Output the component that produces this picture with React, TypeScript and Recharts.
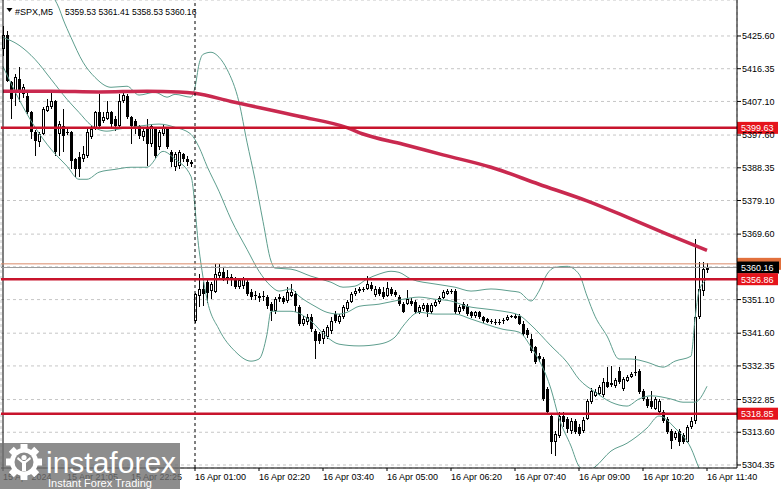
import React from 'react';
import { ComposedChart, Bar, Line, XAxis, YAxis, CartesianGrid, ReferenceLine } from 'recharts';

const FONT = '"Liberation Sans", Arial, sans-serif';

const opens = [
  5422, 5426, 5412.5, 5410.0, 5413.4, 5409.1, 5408.6, 5404.0, 5398.4, 5395.6,
  5397.8, 5404.3, 5405.5, 5407.2, 5397.8, 5400.1, 5398.6, 5398.4, 5390.8, 5391.3,
  5390.8, 5391.6, 5397.0, 5399.3, 5404.0, 5401.5, 5402.1, 5404.0, 5402.1, 5400.1,
  5407.2, 5408.6, 5402.6, 5401.5, 5400.1, 5397.0, 5399.3, 5395.0, 5399.3, 5394.2,
  5397.8, 5399.3, 5392.7, 5388.5, 5388.8, 5392.2, 5390.8, 5389.9, 5345.0, 5352.1,
  5354.1, 5356.0, 5353.5, 5353.2, 5357.7, 5358.8, 5357.5, 5356.9, 5356.9, 5354.6,
  5355.0, 5356.0, 5353.2, 5352.4, 5352.1, 5351.8, 5351.8, 5349.8, 5347.8, 5351.2,
  5351.5, 5350.7, 5352.1, 5352.6, 5349.0, 5344.2, 5344.8, 5346.1, 5342.2, 5341.5,
  5339.9, 5340.5, 5342.2, 5347.0, 5344.8, 5346.1, 5348.4, 5350.4, 5352.6, 5353.5,
  5354.1, 5354.1, 5355.2, 5352.4, 5354.1, 5353.2, 5352.1, 5354.1, 5353.2, 5351.8,
  5349.8, 5349.8, 5350.7, 5350.4, 5347.5, 5348.4, 5349.5, 5347.5, 5349.2, 5350.4,
  5351.5, 5352.6, 5353.2, 5353.5, 5347.5, 5349.8, 5349.2, 5347.5, 5346.4, 5347.5,
  5346.1, 5345.6, 5345.0, 5344.8, 5344.6, 5345.0, 5345.3, 5346.2, 5346.0, 5346.4,
  5344.2, 5342.4, 5339.9, 5337.7, 5335.2, 5334.3, 5325.8, 5318.1, 5310.8, 5312.5,
  5318.1, 5317.3, 5313.9, 5316.7, 5315.0, 5313.9, 5317.3, 5322.1, 5323.9, 5324.4,
  5324.0, 5327.8, 5327.5, 5326.6, 5330.9, 5325.8, 5328.1, 5329.2, 5330.3, 5330.9,
  5325.2, 5323.0, 5322.4, 5320.2, 5319.3, 5319.2, 5317.3, 5314.0, 5312.0, 5313.9,
  5312.9, 5310.8, 5315.0, 5316.7, 5346.1, 5353.5, 5359.53,
];
const highs = [
  5428.3, 5427, 5412.8, 5414.8, 5416.8, 5412.0, 5409.5, 5404.5, 5399.0, 5398.5,
  5405.5, 5407.7, 5409.5, 5407.5, 5401.5, 5404.9, 5399.5, 5398.8, 5391.2, 5392.7,
  5394.4, 5399.3, 5400.1, 5404.3, 5409.1, 5404.0, 5407.2, 5404.5, 5402.9, 5409.1,
  5409.7, 5409.1, 5403.0, 5402.0, 5400.5, 5399.3, 5402.1, 5400.7, 5400.0, 5399.0,
  5400.7, 5399.8, 5393.3, 5392.7, 5393.3, 5392.5, 5391.6, 5390.5, 5352.9, 5358.3,
  5356.0, 5356.5, 5356.0, 5361.1, 5361.1, 5360.2, 5359.5, 5358.3, 5357.5, 5357.0,
  5357.5, 5356.5, 5354.0, 5353.5, 5353.0, 5353.5, 5352.5, 5350.5, 5351.8, 5352.6,
  5352.0, 5354.6, 5355.5, 5353.5, 5349.5, 5346.5, 5347.0, 5347.0, 5342.7, 5342.0,
  5342.7, 5344.0, 5346.1, 5347.8, 5347.0, 5349.5, 5351.0, 5353.2, 5354.5, 5354.6,
  5354.6, 5357.7, 5356.0, 5355.0, 5354.6, 5354.6, 5356.0, 5354.6, 5353.8, 5352.4,
  5350.4, 5353.8, 5351.5, 5351.0, 5349.5, 5350.2, 5350.0, 5350.0, 5351.0, 5352.0,
  5353.8, 5354.1, 5354.1, 5354.0, 5349.5, 5350.4, 5349.8, 5348.0, 5348.0, 5348.0,
  5346.5, 5346.0, 5345.6, 5345.6, 5345.5, 5345.8, 5346.8, 5346.8, 5347.0, 5347.0,
  5345.0, 5343.0, 5341.3, 5338.0, 5336.0, 5335.0, 5326.5, 5319.0, 5314.0, 5319.2,
  5319.2, 5318.0, 5317.5, 5317.3, 5316.0, 5317.8, 5323.0, 5326.0, 5325.8, 5327.0,
  5329.0, 5332.0, 5332.3, 5329.0, 5332.0, 5329.3, 5329.8, 5330.6, 5335.1, 5331.5,
  5325.8, 5323.5, 5325.2, 5323.5, 5323.0, 5320.0, 5318.0, 5314.5, 5314.0, 5314.5,
  5313.5, 5315.6, 5317.8, 5368.2, 5361.6, 5361.6, 5361.41,
];
const lows = [
  5420, 5412.5, 5402.1, 5405.7, 5406.9, 5408.0, 5403.5, 5396.4, 5391.6, 5394.2,
  5397.5, 5404.0, 5405.0, 5391.6, 5391.6, 5392.7, 5397.5, 5387.9, 5385.7, 5385.7,
  5390.0, 5391.0, 5396.5, 5399.0, 5399.3, 5401.0, 5401.8, 5400.0, 5398.7, 5399.8,
  5406.8, 5402.1, 5395.0, 5397.8, 5396.4, 5395.9, 5388.8, 5394.2, 5391.0, 5393.5,
  5397.3, 5393.6, 5388.5, 5387.4, 5387.9, 5390.0, 5388.8, 5388.5, 5344.4, 5349.0,
  5349.2, 5350.0, 5351.2, 5352.9, 5356.9, 5356.3, 5355.5, 5354.9, 5354.0, 5354.0,
  5354.1, 5352.0, 5351.0, 5351.0, 5350.5, 5350.8, 5348.5, 5345.0, 5347.0, 5350.5,
  5349.8, 5350.2, 5351.8, 5347.5, 5343.5, 5343.5, 5344.0, 5342.0, 5334.3, 5338.5,
  5338.5, 5339.9, 5341.5, 5344.4, 5344.2, 5345.6, 5348.0, 5350.0, 5352.0, 5353.0,
  5353.2, 5353.8, 5353.5, 5351.8, 5352.0, 5351.2, 5351.8, 5352.0, 5351.8, 5349.2,
  5347.2, 5349.5, 5349.2, 5347.0, 5347.0, 5348.0, 5346.1, 5347.0, 5349.0, 5349.8,
  5351.2, 5352.3, 5352.8, 5347.0, 5347.0, 5348.0, 5346.6, 5346.0, 5346.0, 5345.7,
  5344.6, 5344.4, 5344.2, 5343.8, 5344.0, 5344.2, 5345.0, 5345.8, 5345.7, 5343.8,
  5340.8, 5340.2, 5336.0, 5333.0, 5333.5, 5322.5, 5318.5, 5307.4, 5306.8, 5312.0,
  5315.0, 5313.5, 5313.0, 5313.0, 5312.5, 5313.5, 5317.0, 5321.5, 5323.5, 5324.0,
  5323.5, 5326.0, 5326.5, 5326.0, 5327.3, 5325.3, 5327.8, 5328.8, 5329.5, 5324.5,
  5322.5, 5320.5, 5320.2, 5319.8, 5318.8, 5316.2, 5313.0, 5309.0, 5311.5, 5309.7,
  5310.2, 5310.5, 5314.5, 5316.0, 5345.5, 5352.0, 5358.53,
];
const closes = [
  5426, 5412.8, 5407.7, 5414.0, 5410.0, 5411.1, 5404.0, 5398.4, 5395.9, 5397.8,
  5404.9, 5405.7, 5407.2, 5392.7, 5400.7, 5397.3, 5398.2, 5390.2, 5387.9, 5387.9,
  5392.2, 5398.4, 5399.3, 5404.0, 5400.1, 5402.6, 5404.0, 5400.7, 5400.1, 5407.2,
  5408.8, 5402.6, 5400.1, 5399.3, 5397.3, 5398.7, 5395.0, 5400.1, 5391.6, 5398.4,
  5399.8, 5394.2, 5389.9, 5392.2, 5392.7, 5390.8, 5389.9, 5389.4, 5352.6, 5354.1,
  5352.6, 5353.0, 5355.5, 5358.3, 5359.0, 5356.9, 5356.9, 5357.5, 5354.6, 5356.6,
  5356.9, 5352.6, 5351.8, 5352.1, 5351.5, 5352.2, 5349.2, 5347.8, 5351.2, 5351.8,
  5350.4, 5353.2, 5353.2, 5349.2, 5344.2, 5345.6, 5346.1, 5342.7, 5339.4, 5339.4,
  5342.2, 5343.3, 5345.0, 5345.0, 5346.4, 5349.0, 5350.4, 5352.6, 5353.5, 5354.1,
  5353.8, 5355.5, 5354.1, 5354.1, 5352.6, 5351.8, 5354.3, 5352.6, 5352.4, 5349.8,
  5347.5, 5351.2, 5349.8, 5347.5, 5349.0, 5349.5, 5347.5, 5349.5, 5350.4, 5351.5,
  5353.2, 5353.5, 5353.5, 5347.5, 5349.0, 5348.4, 5347.0, 5346.4, 5347.5, 5346.1,
  5345.0, 5344.8, 5344.7, 5344.5, 5344.9, 5345.2, 5346.3, 5346.4, 5346.6, 5344.2,
  5341.3, 5341.0, 5336.5, 5333.4, 5334.3, 5323.0, 5319.2, 5310.8, 5313.1, 5318.1,
  5316.4, 5314.5, 5316.7, 5313.6, 5313.1, 5317.0, 5322.4, 5325.2, 5325.0, 5326.3,
  5327.8, 5326.4, 5326.9, 5328.4, 5327.8, 5328.7, 5329.2, 5330.1, 5330.6, 5325.0,
  5323.0, 5321.0, 5320.7, 5323.0, 5322.4, 5316.7, 5313.6, 5311.1, 5313.4, 5310.8,
  5310.8, 5315.0, 5316.7, 5346.1, 5354.1, 5359.7, 5360.16,
];

// Moving average (bar index, value)
const maPts: [number, number][] = [
  [0, 5410.0], [12, 5410.0], [24, 5409.8], [36, 5410.0], [44, 5409.8], [48, 5409.4],
  [57, 5407.1], [74, 5402.9], [86, 5399.7], [90, 5397.9], [100, 5395.0], [110, 5392.0],
  [122, 5388.5], [134, 5383.7], [146, 5379.0], [156, 5374.4], [166, 5369.6], [176, 5365.0],
];
// Bollinger bands (bar index, value)
const bbUpperPts: [number, number][] = [
  [0, 5450], [8, 5442], [13, 5435.8], [14, 5433.5], [15, 5430.4], [17, 5425.2], [20, 5418.2],
  [23, 5413.9], [27, 5411.1], [31, 5411.4], [34, 5408.9], [38, 5409.7], [41, 5408.3],
  [43, 5409.1], [47, 5408.3], [48, 5411.1], [49, 5417.6], [50, 5420.4], [52, 5421.0],
  [54, 5419.6], [56, 5416.2], [59, 5406.9], [61, 5395.6], [63, 5385.1], [65, 5373.2],
  [67, 5362.0], [68, 5360.0], [72, 5359.7], [77, 5357.7], [82, 5356.0], [85, 5354.6],
  [88, 5354.9], [91, 5356.9], [94, 5358.3], [97, 5359.1], [99, 5358.8], [102, 5356.9],
  [108, 5355.5], [113, 5354.6], [117, 5353.5], [122, 5354.1], [127, 5353.5], [129, 5353.2],
  [132, 5350.7], [134, 5353.5], [136, 5358.3], [138, 5360.2], [141, 5360.5], [144, 5358.3],
  [146, 5352.1], [148, 5346.4], [151, 5340.8], [154, 5334.3], [157, 5334.3], [161, 5333.4],
  [165, 5332.0], [168, 5333.7], [172, 5335.1], [173, 5345.6], [174, 5353.5], [176, 5356.9],
];
const bbMiddlePts: [number, number][] = [
  [0, 5425.2], [4, 5423.0], [8, 5419.0], [12, 5413.4], [16, 5407.7], [19, 5404.0],
  [22, 5400.4], [26, 5398.7], [29, 5399.3], [34, 5400.1], [39, 5400.7], [43, 5399.8],
  [47, 5397.8], [49, 5394.2], [51, 5388.8], [54, 5381.7], [57, 5373.8], [61, 5365.3],
  [64, 5359.1], [67, 5354.9], [69, 5353.5], [72, 5354.1], [74, 5352.1], [78, 5349.2],
  [81, 5347.5], [84, 5347.0], [86, 5347.5], [89, 5349.2], [94, 5349.8], [100, 5351.2],
  [104, 5351.8], [108, 5351.2], [112, 5350.7], [116, 5349.2], [121, 5348.4], [125, 5347.8],
  [129, 5346.7], [132, 5343.9], [137, 5338.0], [141, 5333.4], [144, 5328.6], [148, 5325.0],
  [152, 5322.1], [156, 5321.0], [159, 5323.0], [162, 5323.9], [167, 5323.0], [170, 5322.1],
  [173, 5322.1], [176, 5326.6],
];
const bbLowerPts: [number, number][] = [
  [0, 5417.0], [4, 5407.7], [8, 5399.8], [12, 5393.6], [16, 5388.8], [19, 5385.1],
  [21, 5385.1], [24, 5387.1], [28, 5387.9], [32, 5388.5], [36, 5388.5], [40, 5393.0],
  [43, 5390.8], [47, 5385.9], [49, 5365.3], [51, 5351.2], [54, 5342.7], [58, 5336.5],
  [62, 5333.7], [64, 5334.3], [66, 5341.3], [67, 5347.8], [72, 5347.8], [77, 5345.0],
  [81, 5340.5], [84, 5338.5], [89, 5338.0], [94, 5338.5], [98, 5340.5], [100, 5343.6],
  [104, 5347.5], [108, 5347.0], [113, 5347.0], [117, 5345.6], [125, 5342.7], [129, 5341.9],
  [132, 5337.7], [137, 5325.8], [139, 5317.6], [142, 5309.7], [144, 5304.0], [146, 5302.5],
  [148, 5303.8], [152, 5308.3], [156, 5310.5], [161, 5314.8], [164, 5318.2], [168, 5314.8],
  [172, 5309.1], [174, 5303.5], [176, 5299.0],
];

const xTickIdx = [0, 16, 32, 48, 64, 80, 96, 112, 128, 144, 160, 176];
const xTickLabels = [
  '15 Apr 2024', '15 Apr 21:05', '15 Apr 22:25', '16 Apr 01:00', '16 Apr 02:20', '16 Apr 03:40',
  '16 Apr 05:00', '16 Apr 06:20', '16 Apr 07:40', '16 Apr 09:00', '16 Apr 10:20', '16 Apr 11:40',
];
const gridIdx = [8, 16, 24, 32, 40, 48, 56, 64, 72, 80, 88, 96, 104, 112, 120, 128, 136, 144, 152, 160, 168, 176];
const yTicks = [5304.35, 5313.6, 5322.85, 5332.35, 5341.6, 5351.1, 5360.35, 5369.6, 5379.1, 5388.35, 5397.6, 5407.1, 5416.35, 5425.6];
const hiddenYTick = 5360.35; // covered by the price tags in the reference
const yDomain: [number, number] = [5303.5, 5435.77];

const levels = [5399.63, 5356.86, 5318.85];
const bidPrice = 5360.16;
const askPrice = 5361.2;
const symbol = '#SPX,M5';
const daySeparatorIdx = 48;
const SLOTS = 184;

const rows = Array.from({ length: SLOTS }, (_, i) => {
  const r: any = { i };
  if (i < opens.length) {
    r.o = opens[i]; r.h = highs[i]; r.l = lows[i]; r.c = closes[i];
  }
  return r;
});
const put = (pts: [number, number][], key: string) => pts.forEach(([i, v]) => { rows[i][key] = v; });
put(maPts, 'ma');
put(bbUpperPts, 'bbu');
put(bbMiddlePts, 'bbm');
put(bbLowerPts, 'bbl');

const last = opens.length - 1;
const headerValues = [opens[last], highs[last], lows[last], closes[last]].map((v) => v.toFixed(2)).join(' ');

const Candle = (props: any) => {
  const { x, y, width, height, payload } = props;
  if (!payload || payload.h == null) return null;
  const { o, h, l, c } = payload;
  const top = Math.min(y, y + height);
  const bot = Math.max(y, y + height);
  const span = h - l;
  const py = (v: number) => (span > 0 ? top + ((h - v) / span) * (bot - top) : top);
  const cx = x + width / 2;
  const left = Math.round(cx - 1.5);
  const wx = left + 1.5;
  const yH = Math.round(py(h));
  const yL = Math.round(py(l));
  const bTop = Math.round(Math.min(py(o), py(c)));
  const bBot = Math.round(Math.max(py(o), py(c)));
  const hh = bBot - bTop;
  const bull = c >= o;
  let body;
  if (hh < 2) {
    body = <rect x={left} y={bTop} width={3} height={Math.max(hh, 1)} fill="#000" />;
  } else if (bull) {
    body = <rect x={left + 0.5} y={bTop + 0.5} width={2} height={hh - 1} fill="#fff" stroke="#000" strokeWidth={1} />;
  } else {
    body = <rect x={left} y={bTop} width={3} height={hh} fill="#000" />;
  }
  return (
    <g>
      <line x1={wx} x2={wx} y1={yH} y2={Math.max(yL, yH + 1)} stroke="#000" strokeWidth={1} />
      {body}
    </g>
  );
};

const XTick = (props: any) => {
  const { x, y, payload } = props;
  const idx = xTickIdx.indexOf(payload.value);
  if (idx < 0) return null;
  return (
    <text x={x} y={y + 7} fontSize={9} fontFamily={FONT} fill="#000" textAnchor="start">
      {xTickLabels[idx]}
    </text>
  );
};

const PriceTag = (props: any) => {
  const { viewBox, text, bg, w } = props;
  if (!viewBox) return null;
  const y = viewBox.y;
  return (
    <g>
      <rect x={737} y={y - 6} width={w || 41} height={12} fill={bg} />
      {text ? <text x={741} y={y + 3.5} fontSize={9} fontFamily={FONT} fill="#fff">{text}</text> : null}
    </g>
  );
};

const BB = '#5e9e8e';

export default function App() {
  return (
    <div style={{ position: 'absolute', left: 0, top: 0, width: 781, height: 489, background: '#fff', overflow: 'hidden' }}>
      <ComposedChart width={781} height={489} data={rows} margin={{ top: 0, right: 0, bottom: 0, left: 1 }}>
        <CartesianGrid xAxisId="g" stroke="#c6c6c6" strokeDasharray="3 3" />
        <XAxis
          dataKey="i"
          ticks={xTickIdx}
          interval={0}
          tick={<XTick />}
          tickSize={3}
          tickMargin={2}
          height={21}
          axisLine={{ stroke: '#000' }}
          tickLine={{ stroke: '#000' }}
        />
        <XAxis xAxisId="g" dataKey="i" ticks={gridIdx} interval={0} tick={false} tickLine={false} axisLine={false} height={0} />
        <YAxis
          orientation="right"
          domain={yDomain}
          allowDataOverflow
          ticks={yTicks}
          interval={0}
          width={44}
          tickSize={4}
          tickMargin={1}
          tickFormatter={(v: number) => (v === hiddenYTick ? '' : v.toFixed(2))}
          tick={{ fontSize: 9, fontFamily: FONT, fill: '#000' }}
          axisLine={{ stroke: '#000' }}
          tickLine={{ stroke: '#000' }}
        />
        <Line dataKey="bbu" type="monotone" stroke={BB} strokeWidth={1} dot={false} activeDot={false} connectNulls isAnimationActive={false} />
        <Line dataKey="bbm" type="monotone" stroke={BB} strokeWidth={1} dot={false} activeDot={false} connectNulls isAnimationActive={false} />
        <Line dataKey="bbl" type="monotone" stroke={BB} strokeWidth={1} dot={false} activeDot={false} connectNulls isAnimationActive={false} />
        <Bar dataKey={(d: any) => (d.h == null ? null : [d.l, d.h])} barSize={3} shape={<Candle />} isAnimationActive={false} />
        <Line dataKey="ma" type="monotone" stroke="#c9294f" strokeWidth={3.5} dot={false} activeDot={false} connectNulls isAnimationActive={false} />
        <ReferenceLine x={daySeparatorIdx} stroke="#000" strokeDasharray="3 3" />
        <ReferenceLine x={0} stroke="#000" />
        <ReferenceLine y={askPrice} stroke="#d98a68" strokeWidth={1} label={<PriceTag text="" bg="#e2703c" w={44} />} />
        <ReferenceLine y={bidPrice} stroke="#9a9a9a" strokeWidth={1} label={<PriceTag text={bidPrice.toFixed(2)} bg="#000" w={42} />} />
        {levels.map((lv) => (
          <ReferenceLine key={lv} y={lv} stroke="#c8142c" strokeWidth={2.5} label={<PriceTag text={lv.toFixed(2)} bg="#e5141c" w={41} />} />
        ))}
      </ComposedChart>

      <svg width={260} height={20} style={{ position: 'absolute', left: 0, top: 0 }}>
        <polygon points="6.5,8 12.5,8 9.5,12" fill="#000" />
        <text x={15} y={15} fontSize={9} fontFamily={FONT} fill="#000">{symbol}</text>
        <text x={65} y={15} fontSize={8.6} fontFamily={FONT} fill="#000">{headerValues}</text>
      </svg>

      <div style={{ position: 'absolute', left: 0, top: 443, width: 180, height: 46, background: 'rgba(112,112,112,0.8)' }}>
        <svg width={180} height={46} style={{ overflow: 'visible' }}>
          <g transform="translate(24,19)">
            {[0, 45, 90, 135, 180, 225, 270, 315].map((a) => (
              <rect key={a} x={-3.5} y={-18} width={7} height={8} fill="#fff" transform={`rotate(${a})`} />
            ))}
            <circle r={14} fill="#fff" />
            <circle r={9.5} fill="#8a8a8a" />
            <circle cx={0} cy={-4.5} r={2.6} fill="#fff" />
            <path d="M-7,-3 L-2,1 L-2,9 L2,9 L2,1 L7,-3 L6,-5 L1,-1 L-1,-1 L-6,-5 Z" fill="#fff" />
          </g>
          <text x={46} y={30} fontSize={30} fontFamily={FONT} fill="#fff">instaforex</text>
          <text x={48} y={43.5} fontSize={11} fontFamily={FONT} fill="#fff">Instant Forex Trading</text>
        </svg>
      </div>
    </div>
  );
}
